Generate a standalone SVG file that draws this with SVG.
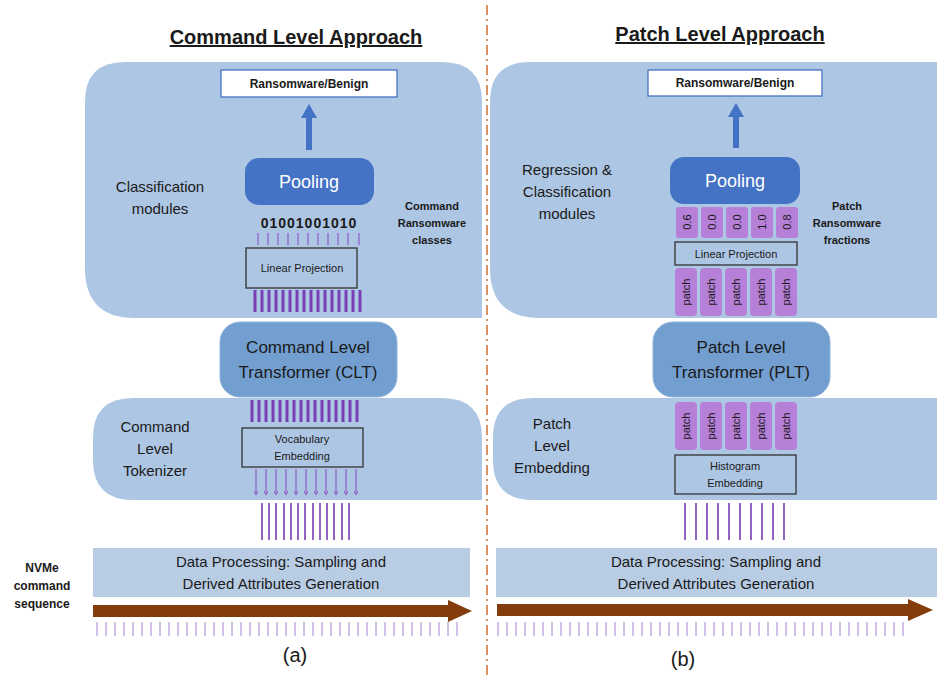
<svg xmlns="http://www.w3.org/2000/svg" width="940" height="677" viewBox="0 0 940 677">
<style>
text{font-family:"Liberation Sans","Noto Sans",sans-serif;fill:#1a1a1a}
.bg{fill:#adc6e3}
.mid{fill:#729fcf;stroke:#8fb3dc;stroke-width:1}
.pool{fill:#4472c4}
.wb{fill:#fff;font-size:18px}
.lbl{font-size:15px;text-anchor:middle}
.bold{font-size:11px;font-weight:bold;text-anchor:middle}
.box{fill:none;stroke:#333;stroke-width:1.3}
.sm{font-size:11px;text-anchor:middle}
.pt{fill:#b67fd8}
.ptt{fill:#fff;font-size:11px;text-anchor:middle}
.thin{stroke:#8e5bc7;stroke-width:1.2}
.thick{stroke:#7a3fb5;stroke-width:3}
.dp{fill:#b8cce4}
.ttl{font-size:20px;font-weight:bold;text-anchor:middle;text-decoration:underline}
</style>
<defs>
<marker id="tip" markerWidth="4" markerHeight="4" refX="2" refY="2" orient="auto" markerUnits="userSpaceOnUse"><path d="M0,0 L4,2 L0,4" fill="none" stroke="#8e5bc7" stroke-width="1"/></marker>
</defs>
<line x1="487" y1="5" x2="487" y2="677" stroke="#c55a11" stroke-width="1.3" stroke-dasharray="10,4,2,4"/>
<text class="ttl" x="296" y="44">Command Level Approach</text>
<text class="ttl" x="720" y="41">Patch Level Approach</text>

<g id="left-cls">
<path class="bg" d="M125,62 H442 Q482,62 482,102 V318 H135 Q85,318 85,268 V102 Q85,62 125,62 Z"/>
<rect x="221" y="70" width="176" height="27" fill="#fff" stroke="#4472c4" stroke-width="1.3"/>
<text x="309" y="88" font-size="12" font-weight="bold" text-anchor="middle">Ransomware/Benign</text>
<path d="M306,150 V118 H301 L309,104 L317,118 H312 V150 Z" fill="#4472c4"/>
<rect class="pool" x="245" y="158" width="129" height="47" rx="14"/>
<text class="wb" x="309" y="188" text-anchor="middle">Pooling</text>
<text x="309" y="228" font-size="14" font-weight="bold" text-anchor="middle" letter-spacing="1">01001001010</text>
<g class="thin"><path d="M258,233v12M268,233v12M278,233v12M288,233v12M298,233v12M308,233v12M318,233v12M328,233v12M338,233v12M348,233v12M359,233v12"/></g>
<rect class="box" x="246" y="248" width="111" height="40" fill="none"/>
<text class="sm" x="302" y="272">Linear Projection</text>
<g class="thick"><path d="M255,290v22M262,290v22M269,290v22M276,290v22M283,290v22M290,290v22M297,290v22M304,290v22M311,290v22M318,290v22M325,290v22M332,290v22M339,290v22M346,290v22M353,290v22M360,290v22"/></g>
<text class="lbl" x="160" y="192">Classification</text>
<text class="lbl" x="160" y="214">modules</text>
<text class="bold" x="432" y="210">Command</text>
<text class="bold" x="432" y="227">Ransomware</text>
<text class="bold" x="432" y="244">classes</text>
</g>

<g id="clt">
<rect class="mid" x="220" y="322" width="177" height="75" rx="20"/>
<text x="308" y="353" font-size="17" text-anchor="middle">Command Level</text>
<text x="308" y="378" font-size="17" text-anchor="middle">Transformer (CLT)</text>
</g>

<g id="left-tok">
<path class="bg" d="M133,398 H442 Q482,398 482,438 V500 H133 Q93,500 93,460 V438 Q93,398 133,398 Z"/>
<g class="thick"><path d="M252,400v22M259,400v22M266,400v22M273,400v22M280,400v22M287,400v22M294,400v22M301,400v22M308,400v22M315,400v22M322,400v22M329,400v22M336,400v22M343,400v22M350,400v22M357,400v22"/></g>
<rect class="box" x="242" y="428" width="121" height="39"/>
<text class="sm" x="302" y="443">Vocabulary</text>
<text class="sm" x="302" y="460">Embedding</text>
<g class="thin" marker-end="url(#tip)"><path d="M256,469v24"/><path d="M266,469v24"/><path d="M276,469v24"/><path d="M286,469v24"/><path d="M296,469v24"/><path d="M306,469v24"/><path d="M316,469v24"/><path d="M326,469v24"/><path d="M336,469v24"/><path d="M346,469v24"/><path d="M356,469v24"/></g>
<text class="lbl" x="155" y="432">Command</text>
<text class="lbl" x="155" y="454">Level</text>
<text class="lbl" x="155" y="476">Tokenizer</text>
</g>

<g id="right-cls">
<path class="bg" d="M530,62 H937 V318 H540 Q490,318 490,268 V102 Q490,62 530,62 Z"/>
<rect x="648" y="70" width="174" height="26" fill="#fff" stroke="#4472c4" stroke-width="1.3"/>
<text x="735" y="87" font-size="12" font-weight="bold" text-anchor="middle">Ransomware/Benign</text>
<path d="M733,148 V117 H728 L736,103 L744,117 H739 V148 Z" fill="#4472c4"/>
<rect class="pool" x="670" y="157" width="130" height="47" rx="14"/>
<text class="wb" x="735" y="187" text-anchor="middle">Pooling</text>
<g class="pt"><rect x="676" y="207" width="22" height="31" rx="3"/><rect x="701" y="207" width="22" height="31" rx="3"/><rect x="726" y="207" width="22" height="31" rx="3"/><rect x="751" y="207" width="22" height="31" rx="3"/><rect x="776" y="207" width="22" height="31" rx="3"/></g>
<g class="ptt"><text transform="translate(691,222) rotate(-90)">0.6</text><text transform="translate(716,222) rotate(-90)">0.0</text><text transform="translate(741,222) rotate(-90)">0.0</text><text transform="translate(766,222) rotate(-90)">1.0</text><text transform="translate(791,222) rotate(-90)">0.8</text></g>
<rect class="box" x="675" y="242" width="122" height="23"/>
<text class="sm" x="736" y="258">Linear Projection</text>
<g class="pt"><rect x="675" y="268" width="22" height="48" rx="4"/><rect x="700" y="268" width="22" height="48" rx="4"/><rect x="725" y="268" width="22" height="48" rx="4"/><rect x="750" y="268" width="22" height="48" rx="4"/><rect x="775" y="268" width="22" height="48" rx="4"/></g>
<g class="ptt"><text transform="translate(690,292) rotate(-90)">patch</text><text transform="translate(715,292) rotate(-90)">patch</text><text transform="translate(740,292) rotate(-90)">patch</text><text transform="translate(765,292) rotate(-90)">patch</text><text transform="translate(790,292) rotate(-90)">patch</text></g>
<text class="lbl" x="567" y="175">Regression &amp;</text>
<text class="lbl" x="567" y="197">Classification</text>
<text class="lbl" x="567" y="219">modules</text>
<text class="bold" x="847" y="210">Patch</text>
<text class="bold" x="847" y="227">Ransomware</text>
<text class="bold" x="847" y="244">fractions</text>
</g>

<g id="plt">
<rect class="mid" x="653" y="322" width="177" height="75" rx="20"/>
<text x="741" y="353" font-size="17" text-anchor="middle">Patch Level</text>
<text x="741" y="378" font-size="17" text-anchor="middle">Transformer (PLT)</text>
</g>

<g id="right-emb">
<path class="bg" d="M533,398 H937 V500 H533 Q493,500 493,460 V438 Q493,398 533,398 Z"/>
<g class="pt"><rect x="675" y="402" width="22" height="48" rx="4"/><rect x="700" y="402" width="22" height="48" rx="4"/><rect x="725" y="402" width="22" height="48" rx="4"/><rect x="750" y="402" width="22" height="48" rx="4"/><rect x="775" y="402" width="22" height="48" rx="4"/></g>
<g class="ptt"><text transform="translate(690,426) rotate(-90)">patch</text><text transform="translate(715,426) rotate(-90)">patch</text><text transform="translate(740,426) rotate(-90)">patch</text><text transform="translate(765,426) rotate(-90)">patch</text><text transform="translate(790,426) rotate(-90)">patch</text></g>
<rect class="box" x="675" y="455" width="121" height="39"/>
<text class="sm" x="735" y="470">Histogram</text>
<text class="sm" x="735" y="487">Embedding</text>
<text class="lbl" x="552" y="429">Patch</text>
<text class="lbl" x="552" y="451">Level</text>
<text class="lbl" x="552" y="473">Embedding</text>
</g>

<g id="connectors">
<g stroke="#7a3fb5" stroke-width="1.6"><path d="M262,503v37M269,503v37M276,503v37M284,503v37M291,503v37M298,503v37M305,503v37M313,503v37M320,503v37M327,503v37M334,503v37M342,503v37M349,503v37"/>
<path d="M685,503v37M696,503v37M707,503v37M718,503v37M729,503v37M740,503v37M751,503v37M762,503v37M773,503v37M784,503v37"/></g>
</g>

<g id="left-data">
<rect class="dp" x="93" y="548" width="377" height="49"/>
<text class="lbl" x="281" y="567">Data Processing: Sampling and</text>
<text class="lbl" x="281" y="589">Derived Attributes Generation</text>
<path d="M93,605 H448 V600 L472,611 L448,622 V617 H93 Z" fill="#843c0c"/>
<g stroke="#a77fd6" stroke-width="1"><path d="M97,622v14M106,622v14M115,622v14M124,622v14M133,622v14M142,622v14M151,622v14M160,622v14M169,622v14M178,622v14M187,622v14M196,622v14M205,622v14M214,622v14M223,622v14M232,622v14M241,622v14M250,622v14M259,622v14M268,622v14M277,622v14M286,622v14M295,622v14M304,622v14M313,622v14M322,622v14M331,622v14M340,622v14M349,622v14M358,622v14M367,622v14M376,622v14M385,622v14M394,622v14M403,622v14M412,622v14M421,622v14M430,622v14M439,622v14M448,622v14M457,622v14"/></g>
<text x="42" y="572" font-size="12" font-weight="bold" text-anchor="middle">NVMe</text>
<text x="42" y="590" font-size="12" font-weight="bold" text-anchor="middle">command</text>
<text x="42" y="608" font-size="12" font-weight="bold" text-anchor="middle">sequence</text>
<text x="295" y="662" font-size="20" text-anchor="middle">(a)</text>
</g>

<g id="right-data">
<rect class="dp" x="496" y="548" width="441" height="49"/>
<text class="lbl" x="716" y="567">Data Processing: Sampling and</text>
<text class="lbl" x="716" y="589">Derived Attributes Generation</text>
<path d="M497,604 H908 V599 L933,610 L908,621 V616 H497 Z" fill="#843c0c"/>
<g stroke="#a77fd6" stroke-width="1"><path d="M498,622v14M507,622v14M516,622v14M525,622v14M534,622v14M543,622v14M552,622v14M561,622v14M570,622v14M579,622v14M588,622v14M597,622v14M606,622v14M615,622v14M624,622v14M633,622v14M642,622v14M651,622v14M660,622v14M669,622v14M678,622v14M687,622v14M696,622v14M705,622v14M714,622v14M723,622v14M732,622v14M741,622v14M750,622v14M759,622v14M768,622v14M777,622v14M786,622v14M795,622v14M804,622v14M813,622v14M822,622v14M831,622v14M840,622v14M849,622v14M858,622v14M867,622v14M876,622v14M885,622v14M894,622v14M903,622v14"/></g>
<text x="683" y="666" font-size="20" text-anchor="middle">(b)</text>
</g>
</svg>
